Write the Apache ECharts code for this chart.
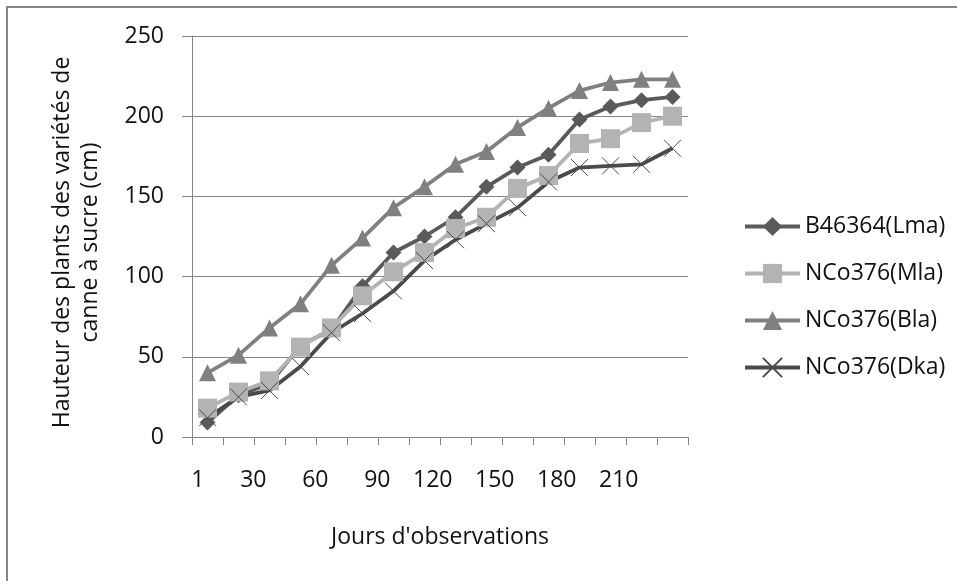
<!DOCTYPE html>
<html>
<head>
<meta charset="utf-8">
<script src="https://cdn.jsdelivr.net/npm/echarts@6/dist/echarts.min.js"></script>
<style>
html,body{margin:0;padding:0;background:#fff;}
#chart{width:957px;height:581px;}
</style>
</head>
<body>
<div id="chart"></div>
<script>
// Days of observation (category axis); every other one is labelled
var days = ['1','15','30','45','60','75','90','105','120','135','150','165','180','195','210','225'];
var seriesNames = ['B46364(Lma)', 'NCo376(Mla)', 'NCo376(Bla)', 'NCo376(Dka)'];
var lma = [9, 26, 33, 57, 67, 94, 115, 125, 137, 156, 168, 176, 198, 206, 210, 212];
var mla = [18, 28, 35, 56, 68, 88, 103, 115, 130, 137, 155, 163, 183, 186, 196, 200];
var bla = [40, 51, 68, 83, 107, 124, 143, 156, 170, 178, 193, 205, 216, 221, 223, 223];
var dka = [12, 25, 29, 44, 65, 77, 91, 110, 123, 133, 143, 159, 168, 169, 170, 180];
var yTicks = {min: 0, max: 250, interval: 50};

var FONT = 'Open Sans';
var FS = 23;
var AX = '#868686';
var crossPath = 'path://M0,0L10,10M10,0L0,10';

var chart = echarts.init(document.getElementById('chart'), null, {renderer: 'canvas'});

function mk(name, data, color, symbol, size, extra) {
  var s = {
    name: name, type: 'line', data: data,
    symbol: symbol, symbolSize: size,
    showAllSymbol: true,
    lineStyle: {color: color, width: 3.8},
    itemStyle: {color: color},
    emphasis: {disabled: true},
    animation: false
  };
  if (extra) { for (var k in extra) s[k] = extra[k]; }
  return s;
}

chart.setOption({
  backgroundColor: '#fff',
  animation: false,
  textStyle: {fontFamily: FONT, color: '#111'},
  graphic: [{
    type: 'rect', silent: true,
    shape: {x: 7, y: 7, width: 1200, height: 1200},
    style: {fill: 'none', stroke: AX, lineWidth: 2}
  }],
  grid: {left: 192, right: 269, top: 36, bottom: 144, containLabel: false},
  legend: {
    orient: 'vertical', left: 738, top: 210,
    itemWidth: 55, itemHeight: 24, itemGap: 24,
    lineStyle: {width: 4},
    textStyle: {fontFamily: FONT, fontSize: FS, color: '#111'},
    data: seriesNames
  },
  xAxis: {
    type: 'category', data: days, boundaryGap: true,
    name: "Jours d'observations", nameLocation: 'middle', nameGap: 89,
    nameTextStyle: {fontFamily: FONT, fontSize: FS, color: '#111'},
    axisLine: {lineStyle: {color: AX, width: 1}},
    axisTick: {show: true, interval: 0, length: 8, lineStyle: {color: AX}},
    axisLabel: {interval: 1, margin: 32, fontFamily: FONT, fontSize: FS, color: '#111', align: 'right', padding: [0, 3, 0, 0]},
    splitLine: {show: false}
  },
  yAxis: {
    type: 'value', min: yTicks.min, max: yTicks.max, interval: yTicks.interval,
    name: 'Hauteur des plants des variétés de\ncanne à sucre (cm)',
    nameLocation: 'middle', nameGap: 88,
    nameTextStyle: {fontFamily: FONT, fontSize: FS, lineHeight: 28, color: '#111', align: 'center', padding: [0, 12, 0, 0]},
    axisLine: {show: true, lineStyle: {color: AX, width: 1}},
    axisTick: {show: true, length: 10, lineStyle: {color: AX}},
    axisLabel: {margin: 28, fontFamily: FONT, fontSize: FS, color: '#111'},
    splitLine: {show: true, lineStyle: {color: AX, width: 1}}
  },
  series: [
    mk(seriesNames[0], lma, '#5a5a5a', 'diamond', 16),
    mk(seriesNames[1], mla, '#b3b3b3', 'rect', 19),
    mk(seriesNames[2], bla, '#808080', 'triangle', 17),
    mk(seriesNames[3], dka, '#4a4a4a', crossPath, 17, {
      itemStyle: {color: '#4a4a4a', borderColor: '#4a4a4a', borderWidth: 1}
    })
  ]
});
</script>
</body>
</html>
